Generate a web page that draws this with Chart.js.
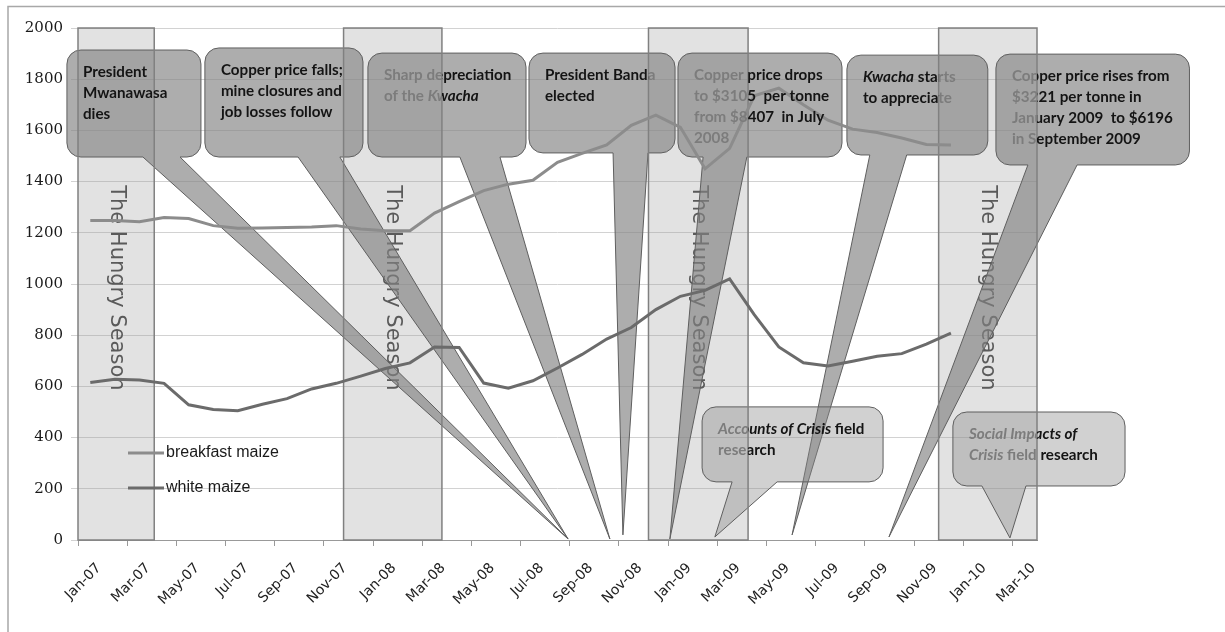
<!DOCTYPE html>
<html>
<head>
<meta charset="utf-8">
<script src="https://cdn.jsdelivr.net/npm/chart.js@4.4.1/dist/chart.umd.min.js"></script>
<style>
  html, body { margin: 0; padding: 0; background: #fff; }
  #wrap { width: 1225px; height: 632px; position: relative; }
</style>
</head>
<body>
<div id="wrap"><canvas id="maizeChart"></canvas></div>
<script>
// monthly maize prices, Jan 2007 - Dec 2009
const months = ['Jan-07', 'Feb-07', 'Mar-07', 'Apr-07', 'May-07', 'Jun-07', 'Jul-07', 'Aug-07', 'Sep-07', 'Oct-07', 'Nov-07', 'Dec-07',
                'Jan-08', 'Feb-08', 'Mar-08', 'Apr-08', 'May-08', 'Jun-08', 'Jul-08', 'Aug-08', 'Sep-08', 'Oct-08', 'Nov-08', 'Dec-08',
                'Jan-09', 'Feb-09', 'Mar-09', 'Apr-09', 'May-09', 'Jun-09', 'Jul-09', 'Aug-09', 'Sep-09', 'Oct-09', 'Nov-09', 'Dec-09'];
const breakfastMaize = [1248, 1248, 1243, 1260, 1256, 1228, 1218, 1219, 1221, 1223, 1228, 1215,
                        1208, 1208, 1277, 1322, 1365, 1390, 1405, 1475, 1510, 1543, 1620, 1660,
                        1612, 1450, 1530, 1735, 1765, 1700, 1640, 1605, 1592, 1570, 1545, 1543];
const whiteMaize = [615, 628, 625, 612, 528, 510, 505, 530, 552, 590, 612, 640,
                    670, 692, 754, 752, 613, 593, 622, 672, 725, 785, 830, 900,
                    952, 975, 1020, 880, 754, 692, 680, 698, 718, 728, 765, 808];
const tickLabels = ['Jan-07', 'Mar-07', 'May-07', 'Jul-07', 'Sep-07', 'Nov-07', 'Jan-08', 'Mar-08', 'May-08', 'Jul-08',
                    'Sep-08', 'Nov-08', 'Jan-09', 'Mar-09', 'May-09', 'Jul-09', 'Sep-09', 'Nov-09', 'Jan-10', 'Mar-10'];

// hungry seasons, in months from Jan 2007
const seasonStart = [0, 10.8, 23.2, 35];
const seasonEnd = [3.1, 14.8, 27.25, 39];

// speech bubbles: box [from, to, top, bottom], tail base [from, to], tail tip [month, price]
const callouts = [
  { box: [-0.45, 5.0, 1914, 1496], base: [2.64, 4.15], tip: [19.93, 4], text: ['President', 'Mwanawasa', 'dies'] },
  { box: [5.16, 11.59, 1922, 1496], base: [8.95, 10.65], tip: [19.93, 4], text: ['Copper price falls;', 'mine closures and', 'job losses follow'] },
  { box: [11.79, 18.22, 1902, 1496], base: [15.53, 17.16], tip: [21.63, 4], text: ['Sharp depreciation', 'of the *Kwacha*'] },
  { box: [18.34, 24.28, 1902, 1512], base: [21.76, 23.18], tip: [22.16, 20], text: ['President Banda', 'elected'] },
  { box: [24.4, 31.07, 1902, 1496], base: [25.42, 27.2], tip: [24.07, 4], text: ['Copper price drops', 'to $3105  per tonne', 'from $8407  in July', '2008'] },
  { box: [31.27, 37.0, 1894, 1504], base: [32.2, 33.7], tip: [29.04, 20], text: ['*Kwacha* starts', 'to appreciate'] },
  { box: [37.33, 45.2, 1898, 1465], base: [38.63, 40.63], tip: [32.98, 12], text: ['Copper price rises from', '$3221 per tonne in', 'January 2009  to $6196', 'in September 2009'] },
  { box: [25.38, 32.74, 520, 227], base: [26.6, 28.43], tip: [25.9, 12], text: ['*Accounts of Crisis* field', 'research'], pale: true },
  { box: [35.58, 42.58, 500, 211], base: [36.76, 38.55], tip: [37.9, 8], text: ['*Social Impacts of*', '*Crisis* field research'], pale: true }
];

const BOX_FONT = '"Lato", "DejaVu Sans", sans-serif';
let squeeze = 1;

function bubblePath(ctx, c, xs, ys) {
  const x0 = xs.getPixelForValue(c.box[0]), x1 = xs.getPixelForValue(c.box[1]);
  const y0 = ys.getPixelForValue(c.box[2]), y1 = ys.getPixelForValue(c.box[3]);
  const b0 = xs.getPixelForValue(c.base[0]), b1 = xs.getPixelForValue(c.base[1]);
  const tx = xs.getPixelForValue(c.tip[0]), ty = ys.getPixelForValue(c.tip[1]);
  const r = 14;
  ctx.beginPath();
  ctx.moveTo(x0 + r, y0);
  ctx.lineTo(x1 - r, y0);
  ctx.arcTo(x1, y0, x1, y0 + r, r);
  ctx.lineTo(x1, y1 - r);
  ctx.arcTo(x1, y1, x1 - r, y1, r);
  ctx.lineTo(b1, y1);
  ctx.lineTo(tx, ty);
  ctx.lineTo(b0, y1);
  ctx.lineTo(x0 + r, y1);
  ctx.arcTo(x0, y1, x0, y1 - r, r);
  ctx.lineTo(x0, y0 + r);
  ctx.arcTo(x0, y0, x0 + r, y0, r);
  ctx.closePath();
}

// *word* runs are set in italics; text is narrowed a little to fit the bubbles
function drawRuns(ctx, line, x, y) {
  line.split('*').forEach((part, k) => {
    if (!part) return;
    ctx.font = (k % 2 ? 'italic ' : '') + 'bold 15px ' + BOX_FONT;
    ctx.save();
    ctx.translate(x, y);
    ctx.scale(squeeze, 1);
    ctx.fillText(part, 0, 0);
    ctx.restore();
    x += ctx.measureText(part).width * squeeze;
  });
}

function drawBubbleText(ctx, xs, ys, color) {
  ctx.fillStyle = color;
  ctx.textAlign = 'left';
  ctx.textBaseline = 'middle';
  callouts.forEach(c => {
    const x = xs.getPixelForValue(c.box[0]) + 16;
    const y = ys.getPixelForValue(c.box[2]) + 22;
    c.text.forEach((line, i) => drawRuns(ctx, line, x, y + i * 21));
  });
}

const annotations = {
  id: 'annotations',
  beforeDraw(chart) {
    const ctx = chart.ctx;
    ctx.save();
    ctx.fillStyle = '#fff';
    ctx.fillRect(0, 0, chart.width, chart.height);
    ctx.strokeStyle = '#a8a8a8';
    ctx.lineWidth = 1.5;
    ctx.strokeRect(8, 6.5, chart.width + 20, chart.height + 20);
    ctx.font = 'bold 15px ' + BOX_FONT;
    squeeze = 122 / ctx.measureText('Copper price falls;').width;
    ctx.restore();
  },
  beforeDatasetsDraw(chart) {
    const ctx = chart.ctx, xs = chart.scales.x, ys = chart.scales.y;
    const top = ys.getPixelForValue(2000), bottom = ys.getPixelForValue(0);
    ctx.save();
    // hungry season bands
    seasonStart.forEach((s, i) => {
      const a = xs.getPixelForValue(s), b = xs.getPixelForValue(seasonEnd[i]);
      ctx.fillStyle = 'rgba(160,160,160,0.3)';
      ctx.fillRect(a, top, b - a, bottom - top);
      ctx.save();
      ctx.translate((a + b) / 2, ys.getPixelForValue(985));
      ctx.rotate(Math.PI / 2);
      ctx.font = '21px "DejaVu Sans", sans-serif';
      ctx.fillStyle = '#5a5a5a';
      ctx.textAlign = 'center';
      ctx.textBaseline = 'middle';
      ctx.fillText('The Hungry Season', 0, 0);
      ctx.restore();
    });
    // event bubbles
    callouts.forEach(c => {
      bubblePath(ctx, c, xs, ys);
      ctx.fillStyle = c.pale ? 'rgba(140,140,140,0.4)' : 'rgba(130,130,130,0.66)';
      ctx.fill();
      ctx.strokeStyle = '#5f5f5f';
      ctx.lineWidth = 1;
      ctx.stroke();
    });
    seasonStart.forEach((s, i) => {
      const a = xs.getPixelForValue(s), b = xs.getPixelForValue(seasonEnd[i]);
      ctx.strokeStyle = '#808080';
      ctx.lineWidth = 1.5;
      ctx.strokeRect(a, top, b - a, bottom - top);
    });
    ctx.restore();
  },
  afterDatasetsDraw(chart) {
    const ctx = chart.ctx, xs = chart.scales.x, ys = chart.scales.y;
    const top = ys.getPixelForValue(2000), bottom = ys.getPixelForValue(0);
    // the later seasons sit over the bubble text and wash it out
    const washed = seasonStart.slice(1).map((s, i) => [xs.getPixelForValue(s), xs.getPixelForValue(seasonEnd[i + 1])]);
    ctx.save();
    ctx.beginPath();
    ctx.rect(0, 0, chart.width, chart.height);
    washed.forEach(([a, b]) => ctx.rect(a, top, b - a, bottom - top));
    ctx.clip('evenodd');
    drawBubbleText(ctx, xs, ys, '#141414');
    ctx.restore();
    ctx.save();
    ctx.beginPath();
    washed.forEach(([a, b]) => ctx.rect(a, top, b - a, bottom - top));
    ctx.clip();
    drawBubbleText(ctx, xs, ys, '#7c7c7c');
    ctx.restore();

    // legend
    ctx.save();
    const lx = chart.chartArea.left + 50;
    chart.data.datasets.forEach((ds, i) => {
      const y = bottom - 87 + i * 35;
      ctx.strokeStyle = ds.borderColor;
      ctx.lineWidth = 3;
      ctx.beginPath();
      ctx.moveTo(lx, y);
      ctx.lineTo(lx + 36, y);
      ctx.stroke();
      ctx.fillStyle = '#1a1a1a';
      ctx.font = '16px "Liberation Sans", sans-serif';
      ctx.textAlign = 'left';
      ctx.textBaseline = 'middle';
      ctx.fillText(ds.label, lx + 38, y);
    });
    ctx.restore();
  }
};

const toPoints = values => values.map((v, i) => ({ x: i + 0.5, y: v }));

new Chart(document.getElementById('maizeChart'), {
  type: 'line',
  data: {
    datasets: [{
      label: 'breakfast maize',
      data: toPoints(breakfastMaize),
      borderColor: '#8c8c8c',
      borderWidth: 3,
      pointRadius: 0,
      tension: 0
    }, {
      label: 'white maize',
      data: toPoints(whiteMaize),
      borderColor: '#6b6b6b',
      borderWidth: 3,
      pointRadius: 0,
      tension: 0
    }]
  },
  options: {
    responsive: true,
    maintainAspectRatio: false,
    animation: false,
    layout: { padding: { left: 0, top: 28, right: 188, bottom: 0 } },
    plugins: { legend: { display: false }, tooltip: { enabled: false } },
    scales: {
      x: {
        type: 'linear',
        min: 0,
        max: 39,
        afterBuildTicks: scale => { scale.ticks = tickLabels.map((_, i) => ({ value: i * 2 })); },
        afterFit: scale => { scale.height = 92; },
        ticks: {
          callback: value => tickLabels[value / 2] || '',
          minRotation: 45,
          maxRotation: 45,
          autoSkip: false,
          padding: 14,
          labelOffset: 21,
          color: '#222',
          font: { family: '"DejaVu Sans", sans-serif', size: 14 }
        },
        grid: { drawOnChartArea: false, color: '#999', tickLength: 6 },
        border: { color: '#999', width: 1 }
      },
      y: {
        min: 0,
        max: 2000,
        afterFit: scale => { scale.width = 78; },
        ticks: {
          stepSize: 200,
          padding: 8,
          color: '#1a1a1a',
          callback: value => String(value),
          font: { family: '"DejaVu Serif", serif', size: 15 }
        },
        grid: { color: '#d2d2d2', tickLength: 7 },
        border: { display: false }
      }
    }
  },
  plugins: [annotations]
});
</script>
</body>
</html>
